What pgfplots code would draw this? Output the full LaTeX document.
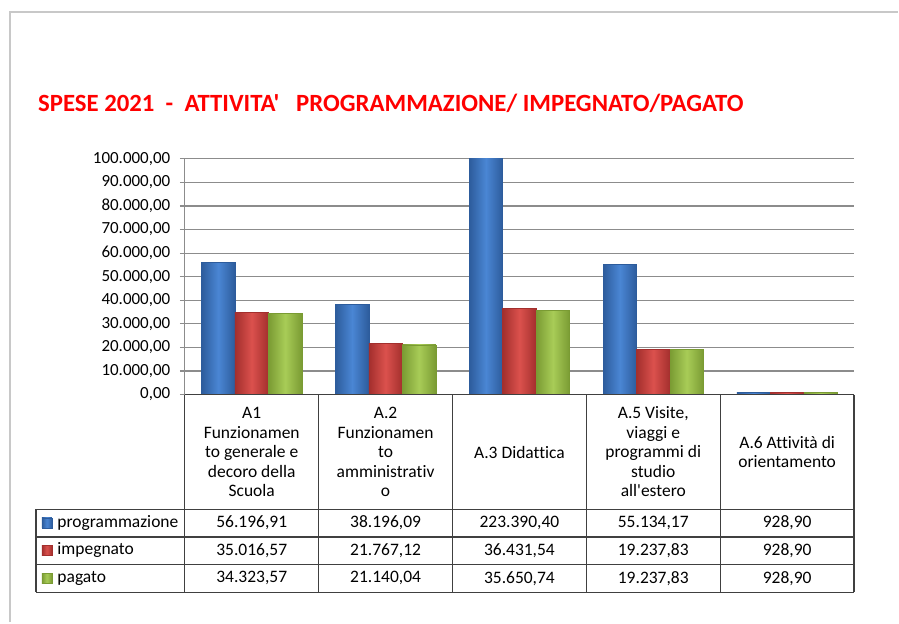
\documentclass[border=0pt]{standalone}
\usepackage{pgfplots}
\pgfplotsset{compat=1.18}
\usepackage{fontspec}
\setmainfont{Carlito}[Ligatures={TeX,CommonOff}]
\newfontfamily\calfont{Carlito}[Ligatures=CommonOff]

\definecolor{bluL}{HTML}{4A86D4}
\definecolor{bluD}{HTML}{2D5C9C}
\definecolor{redL}{HTML}{DB514D}
\definecolor{redD}{HTML}{A32F2D}
\definecolor{grnL}{HTML}{A8CC57}
\definecolor{grnD}{HTML}{7A9B33}
\definecolor{gridG}{HTML}{8C8C8C}
\definecolor{frameG}{HTML}{C8C8C8}
\definecolor{tabG}{HTML}{404040}

\pgfplotsset{
  progr/.style={draw=bluD, line width=0.4pt, left color=bluD, right color=bluD, middle color=bluL, bar shift=-0.25},
  impeg/.style={draw=redD, line width=0.4pt, left color=redD, right color=redD, middle color=redL, bar shift=0},
  pagat/.style={draw=grnD, line width=0.4pt, left color=grnD, right color=grnD, middle color=grnL, bar shift=0.25},
}
% one bar per plot, so that each bar gets its own gradient
\newcommand\onebar[3]{\addplot[#1] coordinates {(#2,#3)};}

\begin{document}
\begin{tikzpicture}[x=1pt,y=1pt]
\path (0,0) rectangle (899,-623);
\draw[line width=2pt, frameG] (10,-623) -- (10,-12) -- (899,-12);
\node[anchor=west, text=red, font=\calfont\fontsize{24.8}{28}\selectfont\bfseries, inner sep=0pt]
  at (38,-103) {SPESE 2021\ \ -\ \ ATTIVITA'\ \ \ PROGRAMMAZIONE/ IMPEGNATO/PAGATO};

\begin{axis}[
  at={(185pt,-395pt)}, anchor=south west,
  scale only axis, width=670pt, height=236pt,
  xmin=0.5, xmax=5.5, ymin=0, ymax=100000,
  ybar, bar width=0.25,
  hide x axis,
  axis y line*=left,
  axis line style={gridG, line width=1.2pt},
  ytick distance=10000,
  scaled y ticks=false,
  tick align=outside, major tick length=5pt,
  ytick style={gridG, line width=1.2pt},
  ymajorgrids, grid style={gridG, line width=1.2pt},
  yticklabel shift=6pt,
  yticklabel style={font=\fontsize{17}{20}\selectfont,
    /pgf/number format/.cd, fixed, fixed zerofill, precision=2,
    1000 sep={.}, dec sep={,}, assume math mode=true},
]
% programmazione
\onebar{progr}{1}{56196.91}
\onebar{progr}{2}{38196.09}
\onebar{progr}{3}{223390.40}
\onebar{progr}{4}{55134.17}
\onebar{progr}{5}{928.90}
% impegnato
\onebar{impeg}{1}{35016.57}
\onebar{impeg}{2}{21767.12}
\onebar{impeg}{3}{36431.54}
\onebar{impeg}{4}{19237.83}
\onebar{impeg}{5}{928.90}
% pagato
\onebar{pagat}{1}{34323.57}
\onebar{pagat}{2}{21140.04}
\onebar{pagat}{3}{35650.74}
\onebar{pagat}{4}{19237.83}
\onebar{pagat}{5}{928.90}
\end{axis}

% data table
\begin{scope}[line width=1.2pt, tabG]
\draw (185,-395) -- (855,-395);
\foreach \x in {185,319,453,587,721,855} \draw (\x,-395) -- (\x,-593);
\foreach \y in {-510,-537.5,-565,-593} \draw (36,\y) -- (855,\y);
\draw (36,-510) -- (36,-593);
\end{scope}

\begin{scope}[every node/.style={font=\calfont\fontsize{17.5}{19.5}\selectfont, align=center, text=black}]
\node at (252,-452.5) {A1\\Funzionamen\\to generale e\\decoro della\\Scuola};
\node at (386,-452.5) {A.2\\Funzionamen\\to\\amministrativ\\o};
\node at (520,-452.5) {A.3 Didattica};
\node at (654,-452.5) {A.5 Visite,\\viaggi e\\programmi di\\studio\\all'estero};
\node at (788,-452.5) {A.6 Attività di\\orientamento};

\node[anchor=west] at (54,-523.5) {programmazione};
\node[anchor=west] at (54,-551) {impegnato};
\node[anchor=west] at (54,-579) {pagato};

\node at (252,-523.5) {56.196,91};
\node at (386,-523.5) {38.196,09};
\node at (520,-523.5) {223.390,40};
\node at (654,-523.5) {55.134,17};
\node at (788,-523.5) {928,90};
\node at (252,-551) {35.016,57};
\node at (386,-551) {21.767,12};
\node at (520,-551) {36.431,54};
\node at (654,-551) {19.237,83};
\node at (788,-551) {928,90};
\node at (252,-579) {34.323,57};
\node at (386,-579) {21.140,04};
\node at (520,-579) {35.650,74};
\node at (654,-579) {19.237,83};
\node at (788,-579) {928,90};
\end{scope}

\draw[draw=bluD, line width=0.4pt, left color=bluD, right color=bluD, middle color=bluL] (42,-518.5) rectangle (52,-528.5);
\draw[draw=redD, line width=0.4pt, left color=redD, right color=redD, middle color=redL] (42,-546) rectangle (52,-556);
\draw[draw=grnD, line width=0.4pt, left color=grnD, right color=grnD, middle color=grnL] (42,-574) rectangle (52,-584);
\end{tikzpicture}
\end{document}
